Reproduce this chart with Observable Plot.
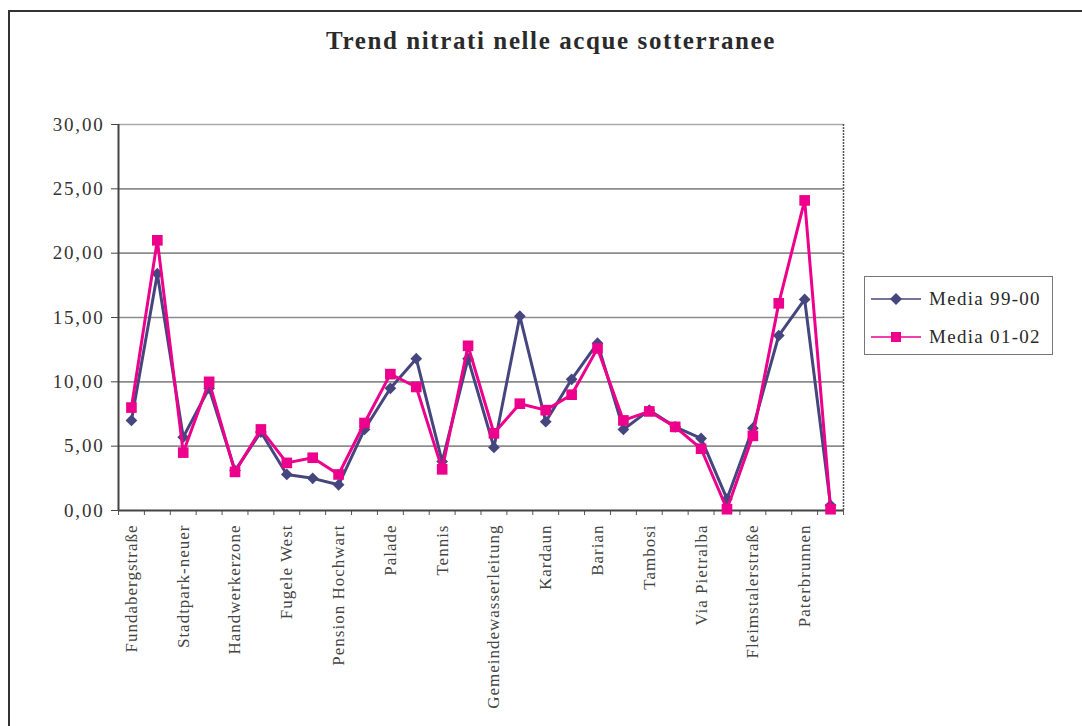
<!DOCTYPE html>
<html><head><meta charset="utf-8">
<script src="https://cdn.jsdelivr.net/npm/d3@7"></script>
<script src="https://cdn.jsdelivr.net/npm/@observablehq/plot@0.6"></script>
<style>
body{margin:0;background:#fff;overflow:hidden;width:1082px;height:726px;position:relative;font-family:"Liberation Serif","DejaVu Serif",serif;}
#frame{position:absolute;left:8px;top:10px;width:1200px;height:900px;border:2px solid #333;box-sizing:border-box;}
#title{position:absolute;left:0;width:1102px;top:27px;text-align:center;font-weight:bold;font-size:25px;letter-spacing:1.6px;color:#2a2a2a;}
#chart{position:absolute;left:0;top:0;}
#legend{position:absolute;left:864px;top:276px;width:189px;height:79px;border:1px solid #777;box-sizing:border-box;background:#fff;}
.lrow{position:absolute;left:4px;height:20px;display:flex;align-items:center;font-size:19px;letter-spacing:1.3px;color:#2a2a2a;}
.lrow span{margin-left:6px;}
g[aria-label="y-axis tick label"] text{letter-spacing:1.8px;}
g[aria-label="x-axis tick label"] text{letter-spacing:1px;}
</style>
</head><body>
<div id="frame"></div>
<div id="chart"></div>
<div id="title"></div>
<div id="legend"></div>
<script>
const chartTitle = "Trend nitrati nelle acque sotterranee";
const seriesNames = ["Media 99-00", "Media 01-02"];
const seriesColors = ["#46467f", "#ec008c"];
const siteLabels = ["Fundabergstraße","Stadtpark-neuer","Handwerkerzone","Fugele West","Pension Hochwart","Palade","Tennis","Gemeindewasserleitung","Kardaun","Barian","Tambosi","Via Pietralba","Fleimstalerstraße","Paterbrunnen"];
const media9900 = [7.0,18.4,5.7,9.5,3.1,6.1,2.8,2.5,2.0,6.3,9.5,11.8,3.8,11.8,4.9,15.1,6.9,10.2,13.0,6.3,7.8,6.5,5.6,0.9,6.4,13.6,16.4,0.4];
const media0102 = [8.0,21.0,4.5,10.0,3.0,6.3,3.7,4.1,2.8,6.8,10.6,9.6,3.2,12.8,6.0,8.3,7.8,9.0,12.6,7.0,7.7,6.5,4.8,0.1,5.8,16.1,24.1,0.1];
const yTicks = [0,5,10,15,20,25,30];

const n = media9900.length;
const rowsA = media9900.map((v,i)=>({i, v}));
const rowsB = media0102.map((v,i)=>({i, v}));
const boundaries = d3.range(n+1).map(k=>k-0.5);
const labelTicks = siteLabels.map((_,k)=>k*2);
const fmt = d => d.toFixed(2).replace(".", ",");

const plot = Plot.plot({
  width:1082, height:726,
  marginLeft:118, marginRight:239, marginTop:124, marginBottom:216,
  x:{domain:[-0.5, n-0.5]},
  y:{domain:[0,30]},
  style:{fontFamily:"'Liberation Serif', serif", background:"transparent", color:"#333"},
  marks:[
    Plot.gridY(yTicks.slice(1,-1), {stroke:"#8c8c8c", strokeOpacity:1, strokeWidth:1.6}),
    Plot.ruleY([30], {stroke:"#aaa", strokeWidth:1.5}),
    Plot.ruleX([n-0.5], {stroke:"#555", strokeWidth:1.5, strokeDasharray:"2,1"}),
    Plot.axisY(yTicks, {tickFormat:fmt, tickSize:7, tickPadding:7, fontSize:19, stroke:"#444", fill:"#333", label:null}),
    Plot.axisX(boundaries, {tickSize:5, tickFormat:()=>"", stroke:"#555", label:null}),
    Plot.axisX(labelTicks, {tickSize:0, tickRotate:-90, tickPadding:14, tickFormat:i=>siteLabels[i/2], fontSize:17, fill:"#444", label:null}),
    Plot.ruleX([-0.5], {stroke:"#444", strokeWidth:2}),
    Plot.ruleY([0], {stroke:"#444", strokeWidth:2}),
    Plot.line(rowsA, {x:"i", y:"v", stroke:seriesColors[0], strokeWidth:3}),
    Plot.dot(rowsA, {x:"i", y:"v", symbol:"diamond2", fill:seriesColors[0], r:5.3}),
    Plot.line(rowsB, {x:"i", y:"v", stroke:seriesColors[1], strokeWidth:3}),
    Plot.dot(rowsB, {x:"i", y:"v", symbol:"square", fill:seriesColors[1], r:6})
  ]
});
document.getElementById("chart").append(plot);
document.getElementById("title").textContent = chartTitle;

const legend = document.getElementById("legend");
const shapes = [
  '<path d="M27,5 L33,11 L27,17 L21,11 Z"/>',
  '<rect x="22" y="6" width="10" height="10"/>'
];
seriesNames.forEach((name, k)=>{
  const row = document.createElement("div");
  row.className = "lrow";
  row.style.top = (12 + k*38) + "px";
  row.innerHTML = `<svg width="54" height="22"><line x1="2" x2="52" y1="11" y2="11" stroke="${seriesColors[k]}" stroke-width="1.3"/><g fill="${seriesColors[k]}">${shapes[k]}</g></svg><span>${name}</span>`;
  legend.append(row);
});
</script>
</body></html>
